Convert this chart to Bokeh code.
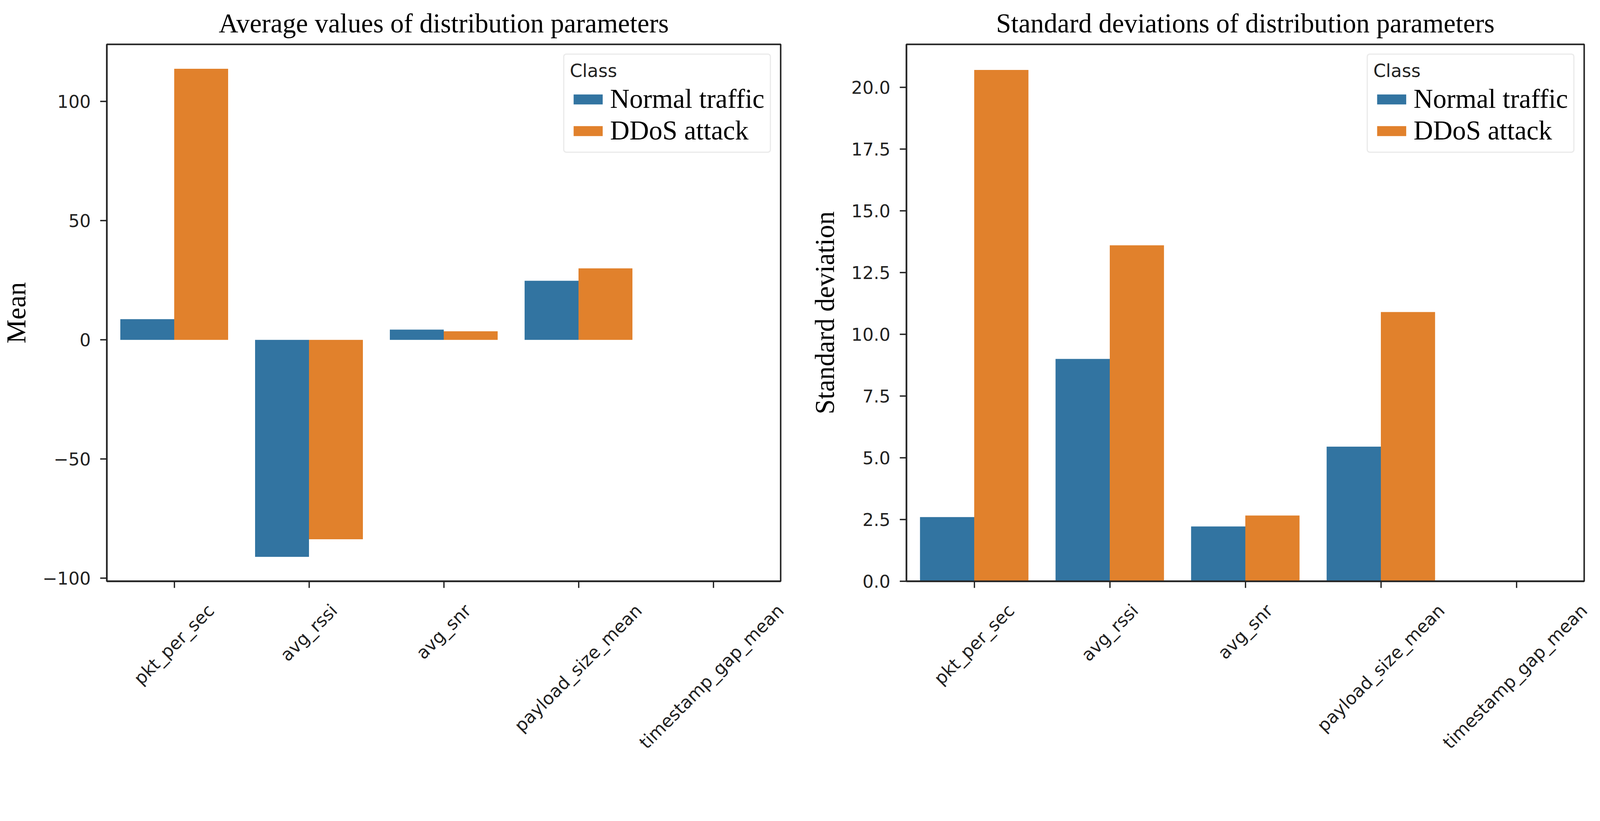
import math
from bokeh.plotting import figure
from bokeh.models import (Range1d, FixedTicker, CustomJSTickFormatter, LinearAxis)
from bokeh.layouts import row
from bokeh.embed import file_html
from bokeh.resources import INLINE

# ---------------- data ----------------
features = ["pkt_per_sec", "avg_rssi", "avg_snr", "payload_size_mean", "timestamp_gap_mean"]
classes = ["Normal traffic", "DDoS attack"]
mean_normal = [8.7, -91.0, 4.3, 24.8, 0.0]
mean_ddos = [113.7, -83.6, 3.6, 30.0, 0.0]
std_normal = [2.6, 9.0, 2.22, 5.45, 0.0]
std_ddos = [20.7, 13.6, 2.66, 10.9, 0.0]
mean_ticks = [-100, -50, 0, 50, 100]
std_ticks = [0.0, 2.5, 5.0, 7.5, 10.0, 12.5, 15.0, 17.5, 20.0]
colors = ["#3274a1", "#e1812c"]

TICK_FONT = "DejaVu Sans"
SERIF = "Liberation Serif"
TICK_SIZE = 45
FRAME_W = 1735
FIG_H = 1948
BORDER_TOP = 113
BORDER_BOTTOM = 455
DARK = "#222222"

# approximate DejaVu Sans advance widths (em) used to place rotated labels
DV = {'a': .613, 'b': .635, 'c': .550, 'd': .635, 'e': .615, 'g': .635, 'i': .278,
      'k': .579, 'l': .278, 'm': .974, 'n': .634, 'o': .612, 'p': .635, 'r': .411,
      's': .521, 't': .392, 'y': .592, 'z': .525, '_': .5, 'v': .592}


def text_w(s):
    return sum(DV.get(ch, 0.6) for ch in s) * TICK_SIZE


def make_fig(title, ylabel, normal, ddos, ticks, formatter_code, width,
             border_left, border_right, y_start, y_end):
    n = len(features)
    p = figure(x_range=Range1d(-0.5, n - 0.5), y_range=Range1d(y_start, y_end),
               width=width, height=FIG_H, output_backend="svg", toolbar_location=None,
               min_border_left=border_left, min_border_right=border_right,
               min_border_top=BORDER_TOP, min_border_bottom=BORDER_BOTTOM,
               background_fill_color="white", border_fill_color="white",
               x_axis_type=None)
    idx = list(range(n))
    p.vbar(x=[i - 0.2 for i in idx], top=normal, bottom=0, width=0.4,
           fill_color=colors[0], line_color=None, legend_label=classes[0])
    p.vbar(x=[i + 0.2 for i in idx], top=ddos, bottom=0, width=0.4,
           fill_color=colors[1], line_color=None, legend_label=classes[1])

    p.grid.visible = False
    p.outline_line_color = DARK
    p.outline_line_width = 3.8

    p.title.text = title
    p.title.text_font = SERIF
    p.title.text_font_size = "69px"
    p.title.text_font_style = "normal"
    p.title.align = "center"
    p.title.standoff = 32
    p.title.text_color = "black"

    # x axis: tick marks at category centres (minor ticks), labels rotated 45 deg and
    # centred like matplotlib (anchor shifted by half the rotated label length)
    px_per_unit = FRAME_W / n
    pos = []
    for i, f in enumerate(features):
        shift = 0.3536 * text_w(f) / px_per_unit
        pos.append(min(i + shift, n - 0.5 - 1e-4))
    xa = LinearAxis(ticker=FixedTicker(ticks=pos, minor_ticks=idx),
                    formatter=CustomJSTickFormatter(args=dict(pos=pos, names=features), code="""
        let best = 0;
        for (let i = 0; i < pos.length; i++) {
            if (Math.abs(pos[i] - tick) < Math.abs(pos[best] - tick)) best = i;
        }
        return names[best];"""))
    xa.major_label_orientation = math.pi / 4
    xa.major_tick_line_color = None
    xa.major_tick_out = 17
    xa.major_tick_in = 0
    xa.minor_tick_line_color = DARK
    xa.minor_tick_line_width = 3.3
    xa.minor_tick_out = 17
    xa.minor_tick_in = 0
    xa.axis_line_width = 3.8
    xa.axis_line_color = DARK
    xa.major_label_text_font = TICK_FONT
    xa.major_label_text_font_size = f"{TICK_SIZE}px"
    xa.major_label_text_color = DARK
    xa.major_label_standoff = 50
    p.add_layout(xa, "below")

    ya = p.yaxis[0]
    ya.axis_line_width = 3.8
    ya.axis_line_color = DARK
    ya.major_tick_line_width = 3.3
    ya.major_tick_line_color = DARK
    ya.major_tick_out = 17
    ya.major_tick_in = 0
    ya.minor_tick_line_color = None
    ya.major_label_text_font = TICK_FONT
    ya.major_label_text_font_size = f"{TICK_SIZE}px"
    ya.major_label_text_color = DARK
    ya.major_label_standoff = 24
    ya.ticker = FixedTicker(ticks=ticks)
    ya.formatter = CustomJSTickFormatter(code=formatter_code)
    ya.axis_label = ylabel
    ya.axis_label_text_font = SERIF
    ya.axis_label_text_font_size = "69px"
    ya.axis_label_text_font_style = "normal"
    ya.axis_label_text_color = "black"
    ya.axis_label_standoff = 26

    lg = p.legend[0]
    lg.location = "top_right"
    lg.margin = 24
    lg.title = "Class"
    lg.title_text_font = TICK_FONT
    lg.title_text_font_size = "46px"
    lg.title_text_font_style = "normal"
    lg.title_text_color = DARK
    lg.title_text_align = "center"
    lg.title_standoff = 6
    lg.label_text_font = SERIF
    lg.label_text_font_size = "69px"
    lg.label_text_color = "black"
    lg.glyph_width = 93
    lg.glyph_height = 32
    lg.label_standoff = 10
    lg.label_height = 56
    lg.spacing = 2
    lg.padding = 14
    lg.border_line_color = "#d6d6d6"
    lg.border_line_width = 3
    lg.background_fill_alpha = 0.8
    if "border_radius" in lg.properties():
        lg.border_radius = 8
    return p


allm = mean_normal + mean_ddos + [0]
lo, hi = min(allm), max(allm)
pad = 0.05 * (hi - lo)
p1 = make_fig("Average values of distribution parameters", "Mean", mean_normal, mean_ddos,
              mean_ticks,
              "return tick < 0 ? '\\u2212' + Math.abs(tick).toString() : tick.toString();",
              263 + FRAME_W + 20, 263, 20, lo - pad, hi + pad)

shi = max(std_normal + std_ddos)
p2 = make_fig("Standard deviations of distribution parameters", "Standard deviation",
              std_normal, std_ddos, std_ticks, "return tick.toFixed(1);",
              302 + FRAME_W + 30, 302, 30, 0, shi * 1.05)

layout = row(p1, p2)
open("out.html", "w").write(file_html(layout, INLINE))
